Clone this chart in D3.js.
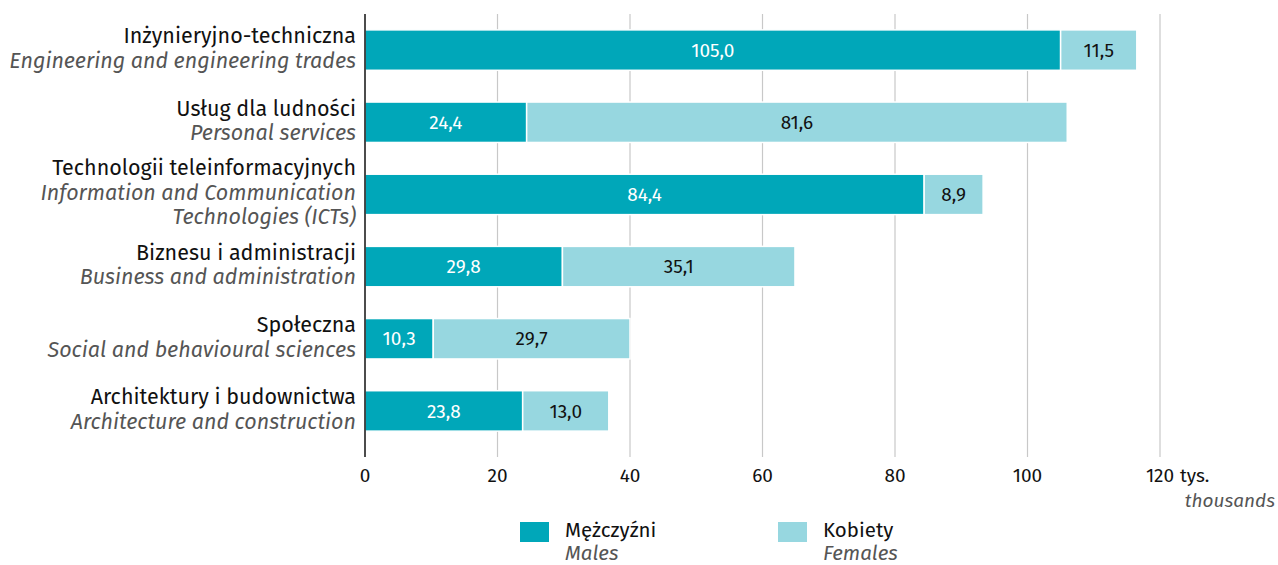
<!DOCTYPE html>
<html>
<head>
<meta charset="utf-8">
<script src="https://cdn.jsdelivr.net/npm/d3@7"></script>
<style>
  body { margin: 0; background: #fff; }
  svg { font-family: "Fira Sans", "Noto Sans", sans-serif; }
</style>
</head>
<body>
<svg width="1278" height="565"></svg>
<script>
// categories: Polish name + English name (lines)
const categoriesPl = [
  'Inżynieryjno-techniczna',
  'Usług dla ludności',
  'Technologii teleinformacyjnych',
  'Biznesu i administracji',
  'Społeczna',
  'Architektury i budownictwa'
];
const categoriesEn = [
  ['Engineering and engineering trades'],
  ['Personal services'],
  ['Information and Communication', 'Technologies (ICTs)'],
  ['Business and administration'],
  ['Social and behavioural sciences'],
  ['Architecture and construction']
];
const males = [105.0, 24.4, 84.4, 29.8, 10.3, 23.8];
const females = [11.5, 81.6, 8.9, 35.1, 29.7, 13.0];
const xTicks = [0, 20, 40, 60, 80, 100, 120];

const maleColor = '#00a7b9';
const femaleColor = '#97d7e0';

const svg = d3.select('svg');

const x = d3.scaleLinear().domain([0, 120]).range([365, 1160]);
const y = d3.scaleBand().domain(d3.range(categoriesPl.length)).range([14, 447]).paddingInner(0.44).paddingOuter(0.22);

const fmt = (v) => v.toFixed(1).replace('.', ',');

// gridlines
svg.append('g')
  .selectAll('line')
  .data(xTicks.slice(1))
  .join('line')
  .attr('x1', (d) => x(d))
  .attr('x2', (d) => x(d))
  .attr('y1', 14)
  .attr('y2', 457)
  .attr('stroke', '#c8c8c8')
  .attr('stroke-width', 1.2);

// stacked data
const rows = categoriesPl.map((c, i) => ({ i, m: males[i], f: females[i] }));

const bars = svg.append('g');
bars.selectAll('rect.m')
  .data(rows)
  .join('rect')
  .attr('class', 'm')
  .attr('x', x(0))
  .attr('y', (d) => y(d.i))
  .attr('width', (d) => x(d.m) - x(0))
  .attr('height', y.bandwidth())
  .attr('fill', maleColor)
  .attr('stroke', '#fff')
  .attr('stroke-width', 1.5);

bars.selectAll('rect.f')
  .data(rows)
  .join('rect')
  .attr('class', 'f')
  .attr('x', (d) => x(d.m))
  .attr('y', (d) => y(d.i))
  .attr('width', (d) => x(d.m + d.f) - x(d.m))
  .attr('height', y.bandwidth())
  .attr('fill', femaleColor)
  .attr('stroke', '#fff')
  .attr('stroke-width', 1.5);

// value labels
bars.selectAll('text.m')
  .data(rows)
  .join('text')
  .attr('class', 'm')
  .attr('x', (d) => (x(0) + x(d.m)) / 2)
  .attr('y', (d) => y(d.i) + y.bandwidth() / 2)
  .attr('dy', '0.35em')
  .attr('text-anchor', 'middle')
  .attr('fill', '#fff')
  .style('font-size', '19px')
  .text((d) => fmt(d.m));

bars.selectAll('text.f')
  .data(rows)
  .join('text')
  .attr('class', 'f')
  .attr('x', (d) => (x(d.m) + x(d.m + d.f)) / 2)
  .attr('y', (d) => y(d.i) + y.bandwidth() / 2)
  .attr('dy', '0.35em')
  .attr('text-anchor', 'middle')
  .attr('fill', '#111')
  .style('font-size', '19px')
  .text((d) => fmt(d.f));

// zero axis line
svg.append('line')
  .attr('x1', x(0)).attr('x2', x(0))
  .attr('y1', 14).attr('y2', 457)
  .attr('stroke', '#111')
  .attr('stroke-width', 1.5);

// x tick labels
svg.append('g')
  .selectAll('text')
  .data(xTicks)
  .join('text')
  .attr('x', (d) => x(d))
  .attr('y', 475)
  .attr('dy', '0.35em')
  .attr('text-anchor', 'middle')
  .attr('fill', '#111')
  .style('font-size', '19px')
  .text((d) => d);

svg.append('text')
  .attr('x', x(120) + 20)
  .attr('y', 475)
  .attr('dy', '0.35em')
  .attr('fill', '#111')
  .style('font-size', '19px')
  .text('tys.');

svg.append('text')
  .attr('x', 1275)
  .attr('y', 500)
  .attr('dy', '0.35em')
  .attr('text-anchor', 'end')
  .attr('fill', '#555')
  .style('font-size', '19px')
  .style('font-style', 'italic')
  .text('thousands');

// category labels
const lineH = 24.5;
const labels = svg.append('g');
categoriesPl.forEach((name, i) => {
  const lines = [{ t: name, it: false }].concat(categoriesEn[i].map((t) => ({ t, it: true })));
  const cy = y(i) + y.bandwidth() / 2 - 2;
  const top = cy - ((lines.length - 1) * lineH) / 2;
  labels.selectAll(null)
    .data(lines)
    .join('text')
    .attr('x', 356)
    .attr('y', (d, k) => top + k * lineH)
    .attr('dy', '0.35em')
    .attr('text-anchor', 'end')
    .attr('fill', (d) => (d.it ? '#555' : '#111'))
    .style('font-style', (d) => (d.it ? 'italic' : 'normal'))
    .style('font-size', '21.5px')
    .text((d) => d.t);
});

// legend
const legendItems = [
  { pl: 'Mężczyźni', en: 'Males', color: maleColor, x: 520 },
  { pl: 'Kobiety', en: 'Females', color: femaleColor, x: 778 }
];
const legend = svg.append('g');
legend.selectAll('rect')
  .data(legendItems)
  .join('rect')
  .attr('x', (d) => d.x)
  .attr('y', 522)
  .attr('width', 29)
  .attr('height', 20)
  .attr('fill', (d) => d.color);
legend.selectAll('text.pl')
  .data(legendItems)
  .join('text')
  .attr('class', 'pl')
  .attr('x', (d) => d.x + 45)
  .attr('y', 530)
  .attr('dy', '0.35em')
  .attr('fill', '#111')
  .style('font-size', '20.5px')
  .text((d) => d.pl);
legend.selectAll('text.en')
  .data(legendItems)
  .join('text')
  .attr('class', 'en')
  .attr('x', (d) => d.x + 45)
  .attr('y', 553)
  .attr('dy', '0.35em')
  .attr('fill', '#555')
  .style('font-style', 'italic')
  .style('font-size', '20.5px')
  .text((d) => d.en);
</script>
</body>
</html>
